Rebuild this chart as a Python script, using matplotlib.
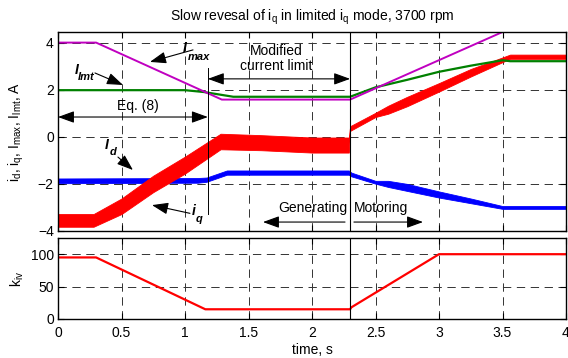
import matplotlib
matplotlib.use("Agg")
import matplotlib.pyplot as plt
import numpy as np

plt.rcParams['font.family'] = ['Liberation Sans', 'DejaVu Sans']
plt.rcParams['mathtext.fontset'] = 'custom'
plt.rcParams['mathtext.rm'] = 'Liberation Sans'
plt.rcParams['mathtext.it'] = 'Liberation Sans:italic'
plt.rcParams['lines.scale_dashes'] = False

# --- data ---
# i_q (red): centre line and half-width of the noise band
t_iq = [0, 0.28, 0.5, 0.75, 1.0, 1.28, 1.6, 2.0, 2.29, 2.30, 2.5, 2.6, 2.75, 3.0, 3.25, 3.5, 3.56, 4.0]
iq = [-3.55, -3.55, -2.95, -2.0, -1.2, -0.2, -0.25, -0.35, -0.35, 0.35, 0.93, 1.15, 1.5, 2.1, 2.72, 3.27, 3.4, 3.4]
iq_hw = [0.27, 0.27, 0.33, 0.35, 0.36, 0.33, 0.32, 0.32, 0.32, 0.1, 0.09, 0.17, 0.2, 0.18, 0.16, 0.1, 0.09, 0.09]

# i_d (blue)
t_id = [0, 1.1, 1.17, 1.33, 2.29, 2.31, 2.5, 2.6, 2.75, 3.0, 3.25, 3.5, 4.0]
i_d = [-1.87, -1.85, -1.82, -1.52, -1.52, -1.6, -1.93, -2.0, -2.15, -2.45, -2.72, -3.0, -3.0]
id_hw = [0.1, 0.1, 0.09, 0.09, 0.09, 0.08, 0.06, 0.13, 0.15, 0.13, 0.1, 0.06, 0.06]

# I_lmt (green)
t_lmt = [0, 1.0, 1.15, 1.38, 2.3, 2.5, 2.75, 3.0, 3.25, 3.5, 3.56, 4.0]
i_lmt = [1.98, 1.98, 1.9, 1.70, 1.70, 2.1, 2.42, 2.76, 3.02, 3.25, 3.21, 3.21]

# I_max (magenta)
t_max = [0, 0.3, 1.29, 2.3, 3.5, 4.0]
i_max = [4.0, 4.0, 1.58, 1.58, 4.45, 4.45]

# k_iv (lower panel)
t_kiv = [0, 0.3, 1.16, 2.3, 2.31, 3.0, 4.0]
kiv = [95, 95, 15, 15, 18, 100, 100]

x_ticks = [0, 0.5, 1, 1.5, 2, 2.5, 3, 3.5, 4]
x_ticklabels = ['0', '0.5', '1', '1.5', '2', '2.5', '3', '3.5', '4']
y_ticks_top = [-4, -2, 0, 2, 4]
y_ticks_bot = [0, 50, 100]

RED = '#ff0000'
BLUE = '#0000ff'
GREEN = '#008000'
MAGENTA = '#c000c0'

fig = plt.figure(figsize=(5.68, 3.58), dpi=100)
ax = fig.add_axes([58/568, 127/358, 508/568, 199/358])
ax2 = fig.add_axes([58/568, 39/358, 508/568, 81/358])

grid_kw = dict(linestyle=(0, (6, 4)), color='0.2', linewidth=0.7)
for a in (ax, ax2):
    a.set_xlim(0, 4)
    a.set_xticks(x_ticks)
    a.tick_params(direction='in', length=4, top=True, right=True, labelsize=10, width=0.8)
    a.tick_params(axis='x', pad=5)
    a.tick_params(axis='y', pad=3)
    for s in a.spines.values():
        s.set_linewidth(1.0)
    a.grid(True, **grid_kw)
    a.set_axisbelow(True)

# top panel
ax.set_ylim(-4, 4.45)
ax.set_yticks(y_ticks_top)
ax.set_xticklabels([])

t = np.array(t_id); c = np.array(i_d); h = np.array(id_hw)
ax.fill_between(t, c - h, c + h, color=BLUE, lw=0.6)
t = np.array(t_iq); c = np.array(iq); h = np.array(iq_hw)
ax.fill_between(t, c - h, c + h, color=RED, lw=0.6)
ax.plot(t_lmt, i_lmt, color=GREEN, lw=1.6)
ax.plot(t_max, i_max, color=MAGENTA, lw=1.4)

ax.axvline(2.3, color='k', lw=0.8)
ax.plot([1.18, 1.18], [2.92, -3.27], color='k', lw=0.7)

ax.set_title(r'Slow revesal of i$_\mathregular{q}$ in limited i$_\mathregular{q}$ mode, 3700 rpm',
             fontsize=10, pad=8)
ax.set_ylabel(r'i$_\mathregular{d}$, i$_\mathregular{q}$, I$_\mathregular{max}$, I$_\mathregular{lmt}$, A',
              fontsize=10)
ax.yaxis.set_label_coords(-0.063, 0.5)

arrow1 = dict(arrowstyle='-|>,head_length=0.55,head_width=0.2', color='k', lw=0.8,
              mutation_scale=18, shrinkA=0, shrinkB=0)
arrow2 = dict(arrowstyle='<|-|>,head_length=0.55,head_width=0.2', color='k', lw=0.8,
              mutation_scale=18, shrinkA=0, shrinkB=0)

lab_kw = dict(fontstyle='italic', fontweight='bold', va='baseline', ha='left')
# I_max
ax.text(0.984, 3.6, 'I', fontsize=10, **lab_kw)
ax.text(1.024, 3.26, 'max', fontsize=8, **lab_kw)
ax.annotate('', xy=(0.724, 3.18), xytext=(1.063, 3.69), arrowprops=arrow1)
# I_lmt
ax.text(0.134, 2.67, 'I', fontsize=10, **lab_kw)
ax.text(0.157, 2.41, 'lmt', fontsize=8, **lab_kw)
ax.annotate('', xy=(0.512, 2.2), xytext=(0.291, 2.71), arrowprops=arrow1)
# I_d
ax.text(0.37, -0.5, 'I', fontsize=10, **lab_kw)
ax.text(0.409, -0.78, 'd', fontsize=8, **lab_kw)
ax.annotate('', xy=(0.59, -1.41), xytext=(0.472, -0.86), arrowprops=arrow1)
# i_q
ax.text(1.055, -3.33, 'i', fontsize=10, **lab_kw)
ax.text(1.087, -3.62, 'q', fontsize=8, **lab_kw)
ax.annotate('', xy=(0.74, -2.9), xytext=(1.039, -3.25), arrowprops=arrow1)

# Eq. (8)
ax.text(0.63, 1.31, 'Eq. (8)', fontsize=10, ha='center', va='center')
ax.annotate('', xy=(0.0, 0.84), xytext=(1.18, 0.84), arrowprops=arrow2)
# Modified current limit
ax.text(1.72, 3.33, 'Modified\ncurrent limit', fontsize=10, ha='center', va='center',
        linespacing=1.05)
ax.annotate('', xy=(1.18, 2.46), xytext=(2.3, 2.46), arrowprops=arrow2)
# Generating / Motoring
ax.text(2.276, -3.03, 'Generating', fontsize=10, ha='right', va='center')
ax.text(2.331, -3.03, 'Motoring', fontsize=10, ha='left', va='center')
ax.annotate('', xy=(1.614, -3.62), xytext=(2.26, -3.62), arrowprops=arrow1)
ax.annotate('', xy=(2.874, -3.62), xytext=(2.33, -3.62), arrowprops=arrow1)

# bottom panel
ax2.set_ylim(0, 125)
ax2.set_yticks(y_ticks_bot)
ax2.set_xticklabels(x_ticklabels)
ax2.plot(t_kiv, kiv, color=RED, lw=1.6)
ax2.axvline(2.3, color='k', lw=0.8)
ax2.set_ylabel(r'k$_\mathregular{iv}$', fontsize=10)
ax2.yaxis.set_label_coords(-0.063, 0.5)
ax2.set_xlabel('time, s', fontsize=10, labelpad=2)

fig.savefig('out.png', dpi=100)
